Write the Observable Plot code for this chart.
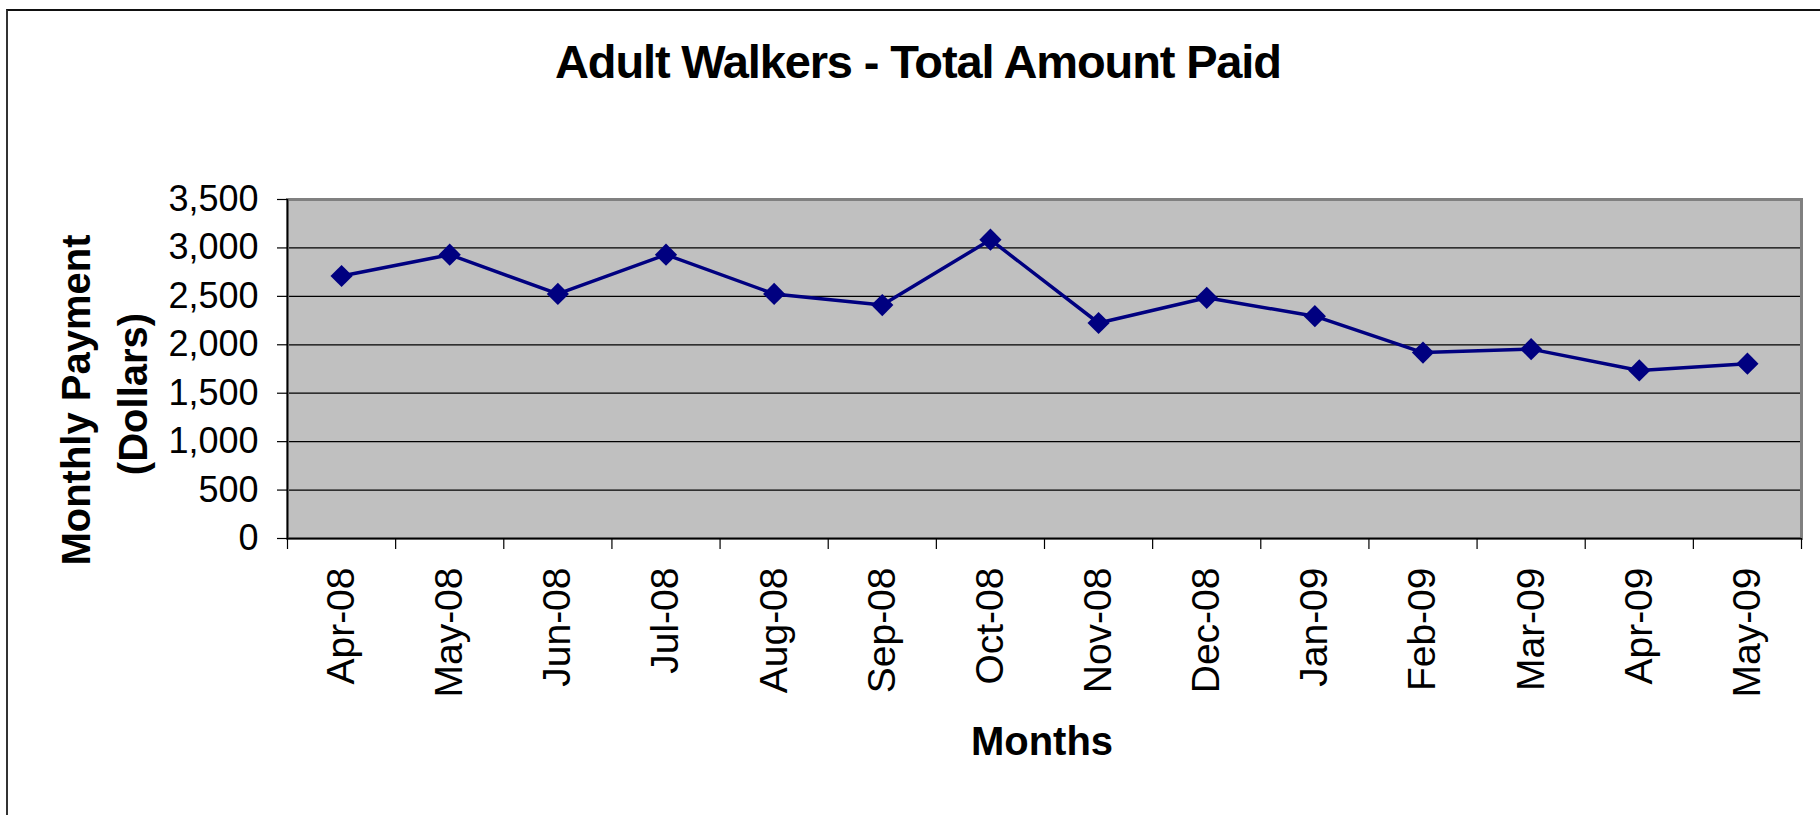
<!DOCTYPE html>
<html>
<head>
<meta charset="utf-8">
<script src="https://cdn.jsdelivr.net/npm/d3@7"></script>
<script src="https://cdn.jsdelivr.net/npm/@observablehq/plot@0.6"></script>
<style>
  html, body { margin: 0; padding: 0; background: #fff; }
  #chart { position: relative; width: 1820px; height: 815px; overflow: hidden; }
  #chart svg { position: absolute; left: 0; top: 0; }
  #border { position: absolute; left: 6px; top: 9px; width: 1830px; height: 830px;
            border-left: 2px solid #333; border-top: 2px solid #111; box-sizing: border-box; }
</style>
</head>
<body>
<div id="chart"><div id="border"></div></div>
<script>
const chartTitle = "Adult Walkers - Total Amount Paid";
const yTitleLines = ["Monthly Payment", "(Dollars)"];
const xTitle = "Months";
const months = ["Apr-08","May-08","Jun-08","Jul-08","Aug-08","Sep-08","Oct-08","Nov-08","Dec-08","Jan-09","Feb-09","Mar-09","Apr-09","May-09"];
const payments = [2710, 2930, 2525, 2930, 2525, 2410, 3085, 2225, 2485, 2295, 1920, 1955, 1735, 1805];
const yTicks = [0, 500, 1000, 1500, 2000, 2500, 3000, 3500];

const data = months.map((m, i) => ({i, month: m, value: payments[i]}));
const idx = d3.range(months.length);
const bounds = d3.range(months.length + 1).map(k => k - 0.5);

const plot = Plot.plot({
  width: 1820,
  height: 815,
  marginLeft: 287,
  marginRight: 19,
  marginTop: 199,
  marginBottom: 277,
  style: {fontFamily: "'Liberation Sans', Arial, sans-serif", color: "#000", background: "transparent", overflow: "visible"},
  x: {type: "linear", domain: [-0.5, months.length - 0.5]},
  y: {domain: [0, 3500]},
  marks: [
    Plot.frame({fill: "#c0c0c0", stroke: "none"}),
    Plot.ruleY(yTicks.filter(v => v > 0 && v < 3500), {stroke: "#000", strokeWidth: 1.2}),
    Plot.frame({stroke: "#808080", strokeWidth: 3}),
    Plot.ruleY([0], {stroke: "#000", strokeWidth: 1.5}),
    Plot.ruleX([-0.5], {stroke: "#000", strokeWidth: 1.5}),
    Plot.axisY({ticks: yTicks, tickFormat: d3.format(","), tickSize: 10, tickPadding: 19, fontSize: 36, label: null, stroke: "#000", strokeWidth: 1.2}),
    Plot.axisX({ticks: bounds, tickFormat: () => "", tickSize: 11, label: null, stroke: "#000", strokeWidth: 1.2}),
    Plot.axisX({ticks: idx, tickFormat: i => months[i], tickSize: 0, tickPadding: 29, tickRotate: -90, fontSize: 39, label: null}),
    Plot.line(data, {x: "i", y: "value", stroke: "#000080", strokeWidth: 3.5}),
    Plot.dot(data, {x: "i", y: "value", symbol: "diamond2", r: 10, fill: "#000080", stroke: "none"})
  ]
});

document.getElementById("chart").appendChild(plot);

const svg = d3.select(plot);
svg.append("text")
  .attr("x", 555).attr("y", 78)
  .attr("text-anchor", "start")
  .attr("textLength", 727).attr("lengthAdjust", "spacing")
  .style("font-size", "47px").style("font-weight", "bold").attr("fill", "#000")
  .text(chartTitle);

const yPos = [[90, 400], [147, 394]];
yTitleLines.forEach((t, k) => {
  svg.append("text")
    .attr("transform", `translate(${yPos[k][0]},${yPos[k][1]}) rotate(-90)`)
    .attr("text-anchor", "middle")
    .style("font-size", "40px").style("font-weight", "bold").attr("fill", "#000")
    .text(t);
});

svg.append("text")
  .attr("x", 1042).attr("y", 755)
  .attr("text-anchor", "middle")
  .style("font-size", "40px").style("font-weight", "bold").attr("fill", "#000")
  .text(xTitle);
</script>
</body>
</html>
